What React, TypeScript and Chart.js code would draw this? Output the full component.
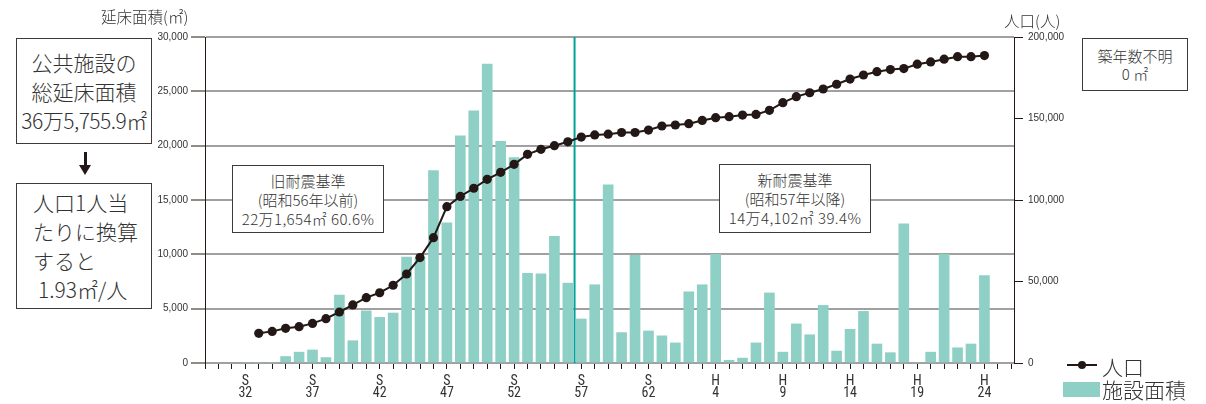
import React, { useEffect, useRef } from 'react';
import Chart from 'chart.js/auto';

// Fiscal years (Showa S32 .. Heisei H24)
const yearLabels = [
  'S32','S33','S34','S35','S36','S37','S38','S39','S40','S41','S42','S43','S44','S45','S46','S47',
  'S48','S49','S50','S51','S52','S53','S54','S55','S56','S57','S58','S59','S60','S61','S62','S63',
  'H1','H2','H3','H4','H5','H6','H7','H8','H9','H10','H11','H12','H13','H14','H15','H16',
  'H17','H18','H19','H20','H21','H22','H23','H24',
];

// 施設面積 (㎡) per year
const floorArea = [
  0, 0, 0, 600, 1000, 1200, 500, 6250, 2050, 4800, 4200, 4600, 9750, 9700, 17700, 12900,
  20900, 23200, 27500, 20400, 18900, 8250, 8200, 11650, 7350, 4050, 7200, 16400, 2800, 9900, 2950, 2500,
  1850, 6550, 7200, 10000, 250, 450, 1850, 6450, 1000, 3600, 2600, 5300, 1100, 3100, 4750, 1750,
  950, 12800, 0, 1000, 10000, 1400, 1750, 8050,
];

// 人口 (人) per year
const population = [
  null, 18200, 19400, 21300, 22300, 24300, 27200, 31300, 35600, 40100, 43100, 47700, 54600, 64700, 76900, 95900,
  102200, 107200, 112700, 117000, 121900, 128000, 131100, 133300, 135700, 138600, 139900, 140400, 141400, 141400, 142900, 145400,
  146000, 146800, 148800, 150500, 151100, 152100, 152500, 155000, 159700, 163400, 165800, 168100, 171000, 174200, 176700, 178700,
  180000, 180600, 183300, 184700, 186400, 187900, 187900, 188600,
];

// x-axis tick labels (every 5 years)
const xTickLabels = [
  ['S', '32'], ['S', '37'], ['S', '42'], ['S', '47'], ['S', '52'], ['S', '57'],
  ['S', '62'], ['H', '4'], ['H', '9'], ['H', '14'], ['H', '19'], ['H', '24'],
];

const firstYear = 32;       // S32 on the continuous Showa-year axis
const axisMinYear = 29;
const axisMaxYear = 89.2;
const dividerYear = 56.5;   // boundary between S56 and S57

const TEAL = '#8fd0c6';
const DARK = '#231815';
const TXT = '#333333';
const JP = "'Noto Sans CJK JP', 'Noto Sans', sans-serif";
const NUM = "'Liberation Sans', Arial, sans-serif";
const NARROW = "'Liberation Sans Narrow', 'Roboto Condensed', 'Liberation Sans', sans-serif";

const dividerPlugin = {
  id: 'divider',
  beforeDatasetsDraw(chart: any) {
    const x = chart.scales.x.getPixelForValue(dividerYear);
    const { top, bottom } = chart.chartArea;
    const ctx = chart.ctx;
    ctx.save();
    ctx.strokeStyle = '#00a496';
    ctx.lineWidth = 2;
    ctx.beginPath();
    ctx.moveTo(x, top);
    ctx.lineTo(x, bottom);
    ctx.stroke();
    ctx.restore();
  },
};

const boxStyle = (left: number, top: number, width: number, height: number): React.CSSProperties => ({
  position: 'absolute', left, top, width, height, boxSizing: 'border-box',
  border: '1px solid #3e3a39', background: '#fff',
});

export default function App() {
  const ref = useRef<HTMLCanvasElement>(null);

  useEffect(() => {
    const barData = floorArea.map((v, i) => ({ x: firstYear + i, y: v }));
    const lineData = population
      .map((v, i) => ({ x: firstYear + i, y: v }))
      .filter((p) => p.y !== null);

    const chart = new Chart(ref.current as HTMLCanvasElement, {
      type: 'bar',
      data: {
        datasets: [
          {
            type: 'line',
            label: '人口',
            data: lineData as any,
            yAxisID: 'y2',
            borderColor: DARK,
            borderWidth: 2,
            pointRadius: 4.6,
            pointBackgroundColor: DARK,
            pointBorderColor: DARK,
            pointBorderWidth: 0,
            tension: 0,
            order: 0,
          } as any,
          {
            type: 'bar',
            label: '施設面積',
            data: barData as any,
            yAxisID: 'y',
            backgroundColor: TEAL,
            borderWidth: 0,
            barThickness: 10,
            order: 1,
          } as any,
        ],
      },
      options: {
        responsive: false,
        animation: false,
        layout: { padding: { top: 37, left: 0, right: 0, bottom: 0 } },
        plugins: { legend: { display: false }, tooltip: { enabled: false } },
        scales: {
          x: {
            type: 'linear',
            min: axisMinYear,
            max: axisMaxYear,
            offset: false,
            afterBuildTicks: (axis: any) => {
              const t = [];
              for (let v = axisMinYear; v <= Math.floor(axisMaxYear); v++) t.push({ value: v });
              axis.ticks = t;
            },
            afterFit: (s: any) => { s.height = 41; },
            grid: {
              offset: false,
              drawOnChartArea: false,
              drawTicks: true,
              tickLength: 6,
              tickColor: DARK,
              tickWidth: 1,
              color: DARK,
            },
            border: { display: false },
            ticks: {
              autoSkip: false,
              maxRotation: 0,
              minRotation: 0,
              padding: 7,
              color: TXT,
              font: { family: NARROW, size: 14, lineHeight: 0.82 },
              callback: (value: any) => {
                const d = Number(value) - firstYear;
                if (d >= 0 && d % 5 === 0 && d / 5 < xTickLabels.length) return xTickLabels[d / 5];
                return '';
              },
            },
          },
          y: {
            position: 'left',
            min: 0,
            max: 30000,
            afterFit: (s: any) => { s.width = 205; },
            grid: { color: '#a0a0a0', lineWidth: 2, tickColor: DARK, tickWidth: 1, tickLength: 14 },
            border: { color: DARK, width: 1 },
            ticks: {
              stepSize: 5000,
              padding: 3,
              color: TXT,
              font: { family: NUM, size: 10 },
              callback: (v: any) => Number(v).toLocaleString('en-US'),
            },
          },
          y2: {
            position: 'right',
            min: 0,
            max: 200000,
            afterFit: (s: any) => { s.width = 192; },
            grid: { drawOnChartArea: false, tickColor: DARK, tickWidth: 1, tickLength: 9 },
            border: { color: DARK, width: 1 },
            ticks: {
              stepSize: 50000,
              padding: 5,
              color: TXT,
              font: { family: NUM, size: 10 },
              callback: (v: any) => Number(v).toLocaleString('en-US'),
            },
          },
        },
      } as any,
      plugins: [dividerPlugin],
    });
    return () => chart.destroy();
  }, []);

  const line = (h: number, fs: number, extra: React.CSSProperties = {}): React.CSSProperties => ({
    height: h, lineHeight: `${h}px`, fontSize: fs, whiteSpace: 'nowrap', ...extra,
  });

  return (
    <div style={{ position: 'absolute', left: 0, top: 0, width: 1206, height: 404, background: '#fff', fontFamily: JP, fontWeight: 300, color: TXT, overflow: 'hidden' }}>
      <canvas ref={ref} width={1206} height={404} style={{ position: 'absolute', left: 0, top: 0, width: 1206, height: 404 }} />

      {/* axis titles */}
      <div style={{ position: 'absolute', left: 101, top: 6, ...line(20, 15.5) }}>延床面積(㎡)</div>
      <div style={{ position: 'absolute', left: 1004, top: 10, ...line(20, 15.5) }}>人口(人)</div>

      {/* left summary boxes */}
      <div style={{ ...boxStyle(16, 38, 136, 106), paddingTop: 9, textAlign: 'center' }}>
        <div style={line(29, 21)}>公共施設の</div>
        <div style={line(29, 21)}>総延床面積</div>
        <div style={line(29, 21, { letterSpacing: -0.5 })}>36万5,755.9㎡</div>
      </div>
      <div style={{ position: 'absolute', left: 84, top: 152, width: 2.5, height: 14, background: DARK }} />
      <div style={{ position: 'absolute', left: 79, top: 165, width: 0, height: 0, borderLeft: '6.2px solid transparent', borderRight: '6.2px solid transparent', borderTop: `10px solid ${DARK}` }} />
      <div style={{ ...boxStyle(16, 183, 136, 126), paddingTop: 4, paddingLeft: 16, textAlign: 'left' }}>
        <div style={line(29, 21)}>人口1人当</div>
        <div style={line(29, 21)}>たりに換算</div>
        <div style={line(29, 21)}>すると</div>
        <div style={line(29, 21, { paddingLeft: 5 })}>1.93㎡/人</div>
      </div>

      {/* period boxes */}
      <div style={{ ...boxStyle(232, 165, 152, 68), paddingTop: 5, textAlign: 'center' }}>
        <div style={line(19.2, 15)}>旧耐震基準</div>
        <div style={line(19.2, 15)}>(昭和56年以前)</div>
        <div style={line(19.2, 15, { letterSpacing: 0.4 })}>22万1,654㎡ 60.6%</div>
      </div>
      <div style={{ ...boxStyle(719, 164, 152, 69), paddingTop: 5, textAlign: 'center' }}>
        <div style={line(19.2, 15)}>新耐震基準</div>
        <div style={line(19.2, 15)}>(昭和57年以降)</div>
        <div style={line(19.2, 15, { letterSpacing: 0.4 })}>14万4,102㎡ 39.4%</div>
      </div>
      <div style={{ ...boxStyle(1082, 38, 106, 53), paddingTop: 8, textAlign: 'center' }}>
        <div style={line(17.5, 15)}>築年数不明</div>
        <div style={line(17.5, 15)}>0 ㎡</div>
      </div>

      {/* legend */}
      <div style={{ position: 'absolute', left: 1067, top: 364, width: 30, height: 2, background: DARK }} />
      <div style={{ position: 'absolute', left: 1078, top: 361, width: 8, height: 8, borderRadius: 4, background: DARK }} />
      <div style={{ position: 'absolute', left: 1102, top: 354, ...line(24, 21) }}>人口</div>
      <div style={{ position: 'absolute', left: 1063, top: 382, width: 37, height: 15, background: TEAL }} />
      <div style={{ position: 'absolute', left: 1102, top: 377, ...line(24, 21) }}>施設面積</div>
    </div>
  );
}
